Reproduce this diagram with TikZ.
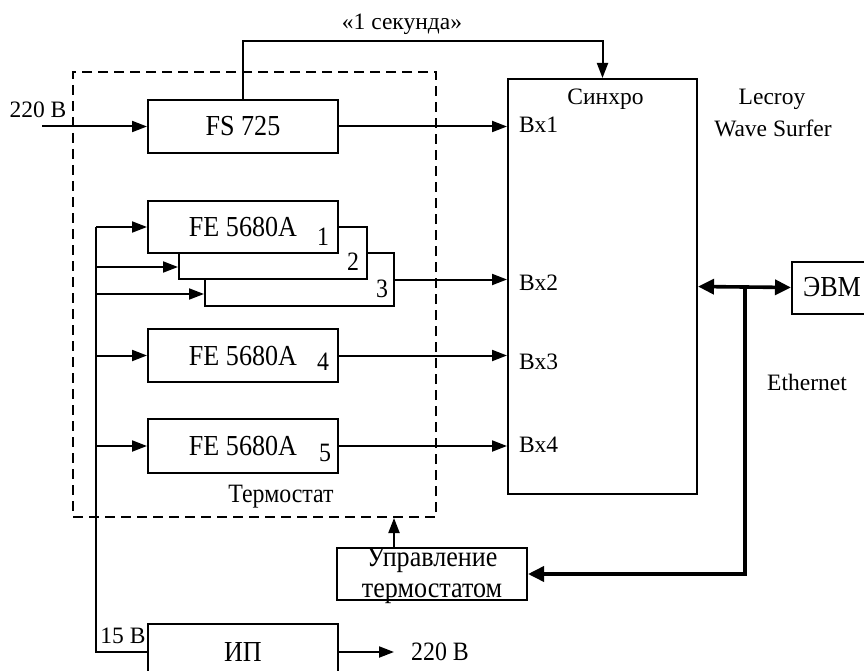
\documentclass[tikz,border=0pt]{standalone}
\usepackage{fontspec}
\setmainfont{Liberation Serif}
\newfontfamily\tallfont{Liberation Serif}[FakeStretch=0.9]
\usetikzlibrary{arrows.meta}
\begin{document}
\begin{tikzpicture}[x=1pt,y=-1pt,
  box/.style={draw, line width=2pt, fill=white, minimum width=190pt, minimum height=53pt, inner sep=0pt, font=\tallfont\fontsize{29}{32}\selectfont},
  lbl/.style={inner sep=0pt, font=\fontsize{23.5}{27}\selectfont},
  tlbl/.style={inner sep=0pt, font=\tallfont\fontsize{26.5}{30}\selectfont},
  wire/.style={line width=2pt},
  conn/.style={line width=2pt, -{Triangle[length=15pt,width=11pt]}},
  busarrow/.style={line width=3.6pt, -{Triangle[length=16pt,width=15pt]}},
  dbusarrow/.style={line width=3.6pt, {Triangle[length=16pt,width=15pt]}-{Triangle[length=16pt,width=15pt]}}
]
\useasboundingbox (0,0) rectangle (864,671);

% thermostat dashed enclosure
\node[draw, line width=2pt, dash pattern=on 10pt off 6pt, minimum width=363pt, minimum height=445pt, inner sep=0pt] (thermo) at (254.5,294.5) {};
\node[tlbl] (thermotxt) at (281,497) {Термостат};

% boxes
\node[box] (fs) at (243,126.5) {FS 725};
\node[box, minimum width=189pt, minimum height=53pt] (fe3) at (299.5,279.5) {};
\node[box, minimum width=188pt, minimum height=52pt] (fe2) at (273,253) {};
\node[box, minimum height=52pt] (fe1) at (243,227) {FE 5680A};
\node[box] (fe4) at (243,355.5) {FE 5680A};
\node[box, minimum height=54pt] (fe5) at (243,446) {FE 5680A};

\node[tlbl] (n1) at (323,237) {1};
\node[tlbl] (n2) at (353,262) {2};
\node[tlbl] (n3) at (382,289) {3};
\node[tlbl] (n4) at (323,362) {4};
\node[tlbl] (n5) at (325,453) {5};

% synchro / oscilloscope
\node[draw, line width=2pt, minimum width=189pt, minimum height=415pt, inner sep=0pt] (sync) at (602.5,286.5) {};
\node[lbl] (synctxt) at (605.5,99) {Синхро};
\node[lbl, anchor=west] (in1) at (519,125) {Вх1};
\node[lbl, anchor=west] (in2) at (519,283) {Вх2};
\node[lbl, anchor=west] (in3) at (519,362) {Вх3};
\node[lbl, anchor=west] (in4) at (519,445) {Вх4};
\node[lbl] (lecroy) at (772,99) {Lecroy};
\node[lbl] (wave) at (773,128) {Wave Surfer};

% computer
\node[box, minimum width=80pt, minimum height=52pt] (evm) at (832,287.5) {ЭВМ};
\node[lbl] (eth) at (807,382) {Ethernet};

% control
\node[draw, line width=2pt, minimum width=190pt, minimum height=52pt, inner sep=0pt] (ctrl) at (432,574) {};
\node[inner sep=0pt, align=center, font=\tallfont\fontsize{29}{31}\selectfont] (ctrltxt) at (432,576) {Управление\\термостатом};

% power supply
\node[box, minimum width=190pt, minimum height=56pt] (ip) at (243,652) {ИП};
\node[lbl] (v15) at (123,636) {15 В};
\node[tlbl] (v220out) at (440,652) {220 В};
\node[lbl] (v220in) at (38,110) {220 В};
\node[lbl] (sec) at (402,24) {«1 секунда»};

% coordinates
\coordinate (inl) at (42,126.5);
\coordinate (top) at (602.5,41);
\coordinate (b1) at (96,227);
\coordinate (b2) at (96,267);
\coordinate (b3) at (96,294);
\coordinate (b4) at (96,355.5);
\coordinate (b5) at (96,446);
\coordinate (ipout) at (394,652);
\coordinate (j) at (745,287.5);
\coordinate (cu) at (394,548);

% connectors
\draw[conn] (inl) -- (fs.west);
\draw[conn] (fs.north) |- (top) -- (sync.north);
\draw[conn] (fs.east) -- (fs.east -| sync.west);
\draw[conn] (fe3.east) -- (fe3.east -| sync.west);
\draw[conn] (fe4.east) -- (fe4.east -| sync.west);
\draw[conn] (fe5.east) -- (fe5.east -| sync.west);

\draw[wire] (b1) |- (ip.west);
\draw[conn] (b1) -- (fe1.west);
\draw[conn] (b2) -- (b2 -| fe2.west);
\draw[conn] (b3) -- (b3 -| fe3.west);
\draw[conn] (b4) -- (fe4.west);
\draw[conn] (b5) -- (fe5.west);
\draw[conn] (ip.east) -- (ipout);

\draw[conn] (cu) -- (cu |- thermo.south);

\draw[dbusarrow] (sync.east) -- (evm.west);
\draw[busarrow] (j) |- (ctrl.east);
\end{tikzpicture}
\end{document}
